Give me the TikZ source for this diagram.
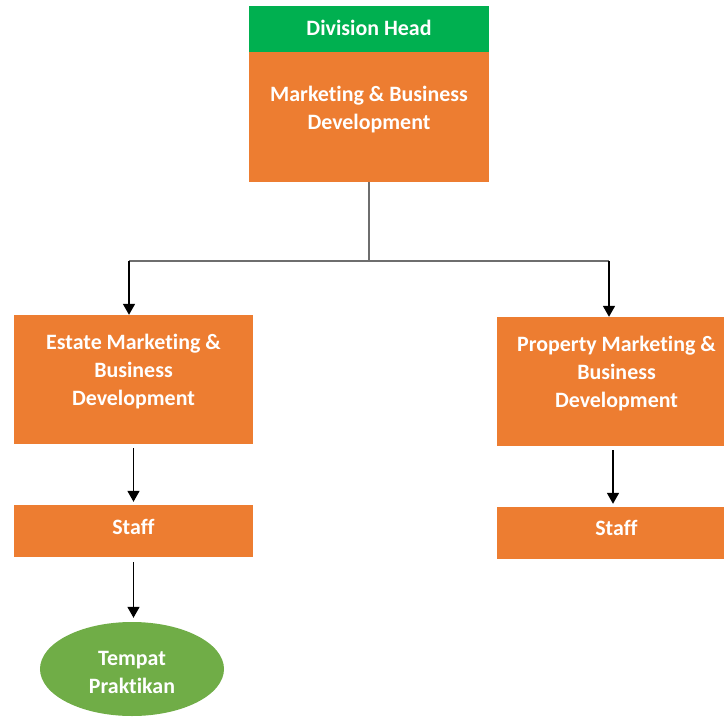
\documentclass[tikz,border=0pt]{standalone}
\usepackage{fontspec}
\setmainfont{Carlito}[Ligatures={NoCommon}]
\usetikzlibrary{shapes.geometric,arrows.meta}
\definecolor{orng}{HTML}{ED7D31}
\definecolor{grn}{HTML}{00B050}
\definecolor{lgrn}{HTML}{70AD47}
\definecolor{lin}{HTML}{6E6E6E}
\begin{document}
\begin{tikzpicture}[x=1bp,y=-1bp,
  txt/.style={text=white,font=\bfseries\fontsize{22}{28.5}\selectfont,align=center,inner sep=0pt},
  obox/.style={rectangle,fill=orng,inner sep=0pt},
  conn/.style={draw=lin,line width=1.6bp},
  arr/.style={draw=black,line width=1.6bp,-{Triangle[width=12bp,length=11bp]}}]
\useasboundingbox (0,0) rectangle (724,718);
\clip (0,0) rectangle (724,718);
% top
\node[rectangle,fill=grn,minimum width=240bp,minimum height=46bp,inner sep=0pt] (head) at (369,29) {};
\node[txt] at (369,28) {Division Head};
\node[obox,minimum width=240bp,minimum height=130bp] (mbd) at (369,117) {};
\node[txt] at (369,109.5) {Marketing \& Business\\Development};
% second level
\node[obox,minimum width=239bp,minimum height=129bp] (est) at (133.5,379.5) {};
\node[txt] at (133.5,371.5) {Estate Marketing \&\\Business\\Development};
\node[obox,minimum width=239bp,minimum height=129bp] (prop) at (616.5,381.5) {};
\node[txt] at (616.5,373.5) {Property Marketing \&\\Business\\Development};
% staff
\node[obox,minimum width=239bp,minimum height=52bp] (st1) at (133.5,531) {};
\node[txt] at (133.5,527) {Staff};
\node[obox,minimum width=239bp,minimum height=52bp] (st2) at (616.5,533) {};
\node[txt] at (616.5,528) {Staff};
% ellipse
\node[ellipse,fill=lgrn,minimum width=184bp,minimum height=94bp,inner sep=0pt] (tp) at (132,669) {};
\node[txt] at (132,672.5) {Tempat\\Praktikan};
% connectors
\coordinate (j) at (369,261);
\coordinate (jl) at (129,261);
\coordinate (jr) at (609,261);
\draw[conn] (mbd.south) -- (j);
\draw[conn] (jl) -- (jr);
\draw[arr] (jl) -- (jl |- est.north);
\draw[arr] (jr) -- (jr |- prop.north);
\draw[arr,shorten <=4bp,shorten >=3bp] (est.south) -- (st1.north);
\draw[arr,shorten <=4bp,shorten >=3bp] ([xshift=-3.5bp]prop.south) -- ([xshift=-3.5bp]st2.north);
\draw[arr,shorten <=5bp,shorten >=4bp] (st1.south) -- (st1.south |- tp.north);
\end{tikzpicture}
\end{document}
